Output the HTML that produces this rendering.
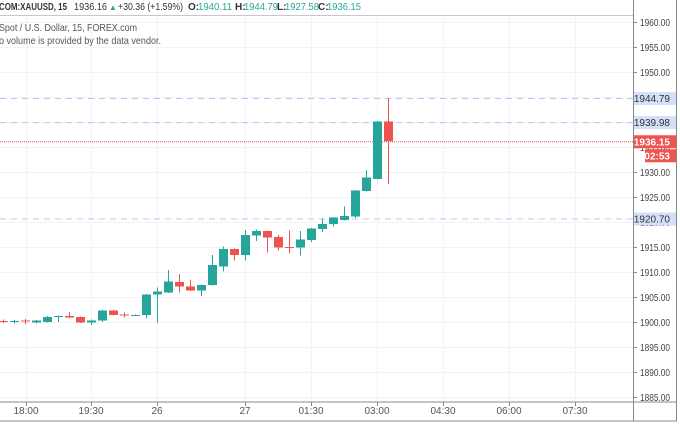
<!DOCTYPE html>
<html><head><meta charset="utf-8"><style>
body{margin:0;background:#fff;width:680px;height:425px;overflow:hidden;font-family:"Liberation Sans",sans-serif}
svg text{font-family:"Liberation Sans",sans-serif}
</style></head><body>
<svg id="c" width="680" height="425">
<rect x="0" y="0" width="680" height="425" fill="#fff"/>
<g id="grid"></g>
<g id="lines"></g>
<g id="candles"></g>
<line x1="0" y1="15.5" x2="633" y2="15.5" stroke="#c8c8c8"/>
<g font-size="10" fill="#333">
<text x="-1" y="10" font-weight="bold" textLength="68" lengthAdjust="spacingAndGlyphs">COM:XAUUSD, 15</text>
<text x="74" y="10" textLength="33" lengthAdjust="spacingAndGlyphs">1936.16</text>
<text x="109" y="10" fill="#26a69a" font-size="8">▲</text>
<text x="118" y="10" textLength="65" lengthAdjust="spacingAndGlyphs">+30.36 (+1.59%)</text>
<text x="188" y="10" font-weight="bold">O:</text>
<text x="198" y="10" fill="#26a69a" textLength="34" lengthAdjust="spacingAndGlyphs">1940.11</text>
<text x="235" y="10" font-weight="bold">H:</text>
<text x="244" y="10" fill="#26a69a" textLength="34" lengthAdjust="spacingAndGlyphs">1944.79</text>
<text x="277" y="10" font-weight="bold">L:</text>
<text x="285" y="10" fill="#26a69a" textLength="34" lengthAdjust="spacingAndGlyphs">1927.58</text>
<text x="318" y="10" font-weight="bold">C:</text>
<text x="327" y="10" fill="#26a69a" textLength="34" lengthAdjust="spacingAndGlyphs">1936.15</text>
</g>
<text x="-1" y="31" font-size="10.5" fill="#555" textLength="138" lengthAdjust="spacingAndGlyphs">Spot / U.S. Dollar, 15, FOREX.com</text>
<text x="-1" y="44" font-size="10.5" fill="#555" textLength="162" lengthAdjust="spacingAndGlyphs">o volume is provided by the data vendor.</text>
<g id="axes"></g>
</svg>
<script>
const opens  =[1900.2,1900.0,1900.3,1899.9,1900.0,1901.1,1901.2,1901.0,1899.9,1900.3,1902.3,1901.5,1901.3,1901.4,1905.5,1905.9,1908.0,1907.1,1906.3,1907.4,1911.1,1914.6,1913.4,1917.3,1918.2,1917.0,1915.0,1914.9,1916.4,1918.6,1919.6,1920.4,1921.1,1926.2,1928.6,1940.11];
const highs  =[1900.5,1900.4,1900.6,1900.4,1901.2,1901.3,1902.0,1901.1,1900.5,1902.4,1902.4,1901.9,1901.5,1905.6,1906.9,1910.4,1909.6,1908.4,1907.5,1913.4,1915.1,1914.7,1918.4,1918.5,1918.3,1917.4,1918.3,1918.2,1918.8,1920.7,1921.0,1923.1,1926.4,1930.4,1940.2,1944.79];
const lows   =[1899.8,1899.7,1899.6,1899.7,1899.9,1900.0,1900.8,1899.8,1899.4,1900.0,1901.3,1900.9,1901.2,1900.7,1899.8,1905.8,1905.9,1906.2,1905.2,1907.3,1910.1,1912.3,1912.3,1916.2,1913.9,1914.3,1913.7,1913.3,1916.0,1918.0,1919.1,1920.3,1920.8,1926.1,1928.5,1927.58];
const closes =[1900.0,1900.2,1900.1,1900.3,1901.0,1901.2,1900.9,1899.9,1900.3,1902.3,1901.4,1901.3,1901.4,1905.5,1906.1,1908.1,1907.1,1906.3,1907.4,1911.4,1914.6,1913.4,1917.4,1918.2,1916.9,1914.9,1914.9,1916.5,1918.7,1919.6,1920.9,1921.2,1926.3,1928.9,1940.1,1936.15];
const priceTicks=[1960,1955,1950,1945,1940,1935,1930,1925,1920,1915,1910,1905,1900,1895,1890,1885];
const timeLabels=["18:00","19:30","26","27","01:30","03:00","04:30","06:00","07:30"];
const timeSlots=[2.1,8,14,22,28,34,40,46,52];
const refLevels=[1944.79,1939.98,1920.70];
const lastPrice=1936.15;

const NS="http://www.w3.org/2000/svg";
const yS=p=>22+(1960-p)*5;
const xS=i=>3+i*11;
function mk(parent,tag,attrs){const e=document.createElementNS(NS,tag);for(const k in attrs)e.setAttribute(k,attrs[k]);document.getElementById(parent).appendChild(e);return e;}

priceTicks.forEach(p=>{
  const g=mk('grid','line',{x1:0,x2:633,y1:yS(p)+.5,y2:yS(p)+.5,stroke:'#f0f3fa'});
  
  
});
timeSlots.forEach(s=>{
  const x=Math.round(xS(s))+.5;
  const g=mk('grid','line',{x1:x,x2:x,y1:16,y2:402,stroke:'#f0f3fa'});
  
  
});
refLevels.forEach(p=>{
  const l=mk('lines','line',{x1:0,x2:633,y1:yS(p)+.5,y2:yS(p)+.5,stroke:'#b8c9ee','stroke-dasharray':'6 5'});
  
  
});
const pl=mk('lines','line',{x1:0,x2:633,y1:yS(lastPrice)+.5,y2:yS(lastPrice)+.5,stroke:'#ef5350','stroke-dasharray':'1 1'});



opens.forEach((o,i)=>{
  const c=closes[i],up=c>=o,col=up?'#26a69a':'#ef5350',x=xS(i);
  const w=mk('candles','line',{x1:x+.5,x2:x+.5,y1:yS(highs[i]),y2:yS(lows[i]),stroke:col});
  
  
  const t=yS(Math.max(o,c)),b=yS(Math.min(o,c));
  const r=mk('candles','rect',{x:x-4,y:t,width:9,height:Math.max(1,b-t),fill:col});
  
  
});

mk('axes','line',{x1:633.5,x2:633.5,y1:0,y2:421,stroke:'#888'});
mk('axes','line',{x1:0,x2:677,y1:402,y2:402,stroke:'#888'});
mk('axes','line',{x1:0,x2:677,y1:421,y2:421,stroke:'#888'});
mk('axes','line',{x1:676.5,x2:676.5,y1:0,y2:421,stroke:'#888'});
priceTicks.forEach(p=>{
  mk('axes','line',{x1:633,x2:637,y1:yS(p)+.5,y2:yS(p)+.5,stroke:'#888'});
  const t=mk('axes','text',{x:640,y:yS(p)+4,'font-size':'10',fill:'#444',textLength:'30',lengthAdjust:'spacingAndGlyphs'});
  t.textContent=p.toFixed(2);
  
  
});
timeLabels.forEach((s,i)=>{
  const x=Math.round(xS(timeSlots[i]));
  mk('axes','line',{x1:x+.5,x2:x+.5,y1:402,y2:406,stroke:'#888'});
  const t=mk('axes','text',{x:x,y:414,'font-size':'10',fill:'#555','text-anchor':'middle'});
  t.textContent=s;
  
  
});
function badge(p,label,bg,fg,x,w,dy){
  const y=yS(p)+dy;
  const r=mk('axes','rect',{x:x,y:y-6,width:w,height:13,fill:bg});
  
  
  const t=mk('axes','text',{x:x+w-6,y:y+4,'font-size':'10',fill:fg,'text-anchor':'end','font-weight':fg=='#fff'?'bold':'normal'});
  t.textContent=label;
  
  
}
refLevels.forEach(p=>badge(p,p.toFixed(2),'#d3e0f7','#333',634,42,0));
badge(lastPrice,lastPrice.toFixed(2),'#ef5350','#fff',634,42,0);
badge(lastPrice,'02:53','#ef5350','#fff',645,31,14);
</script>
</body></html>
